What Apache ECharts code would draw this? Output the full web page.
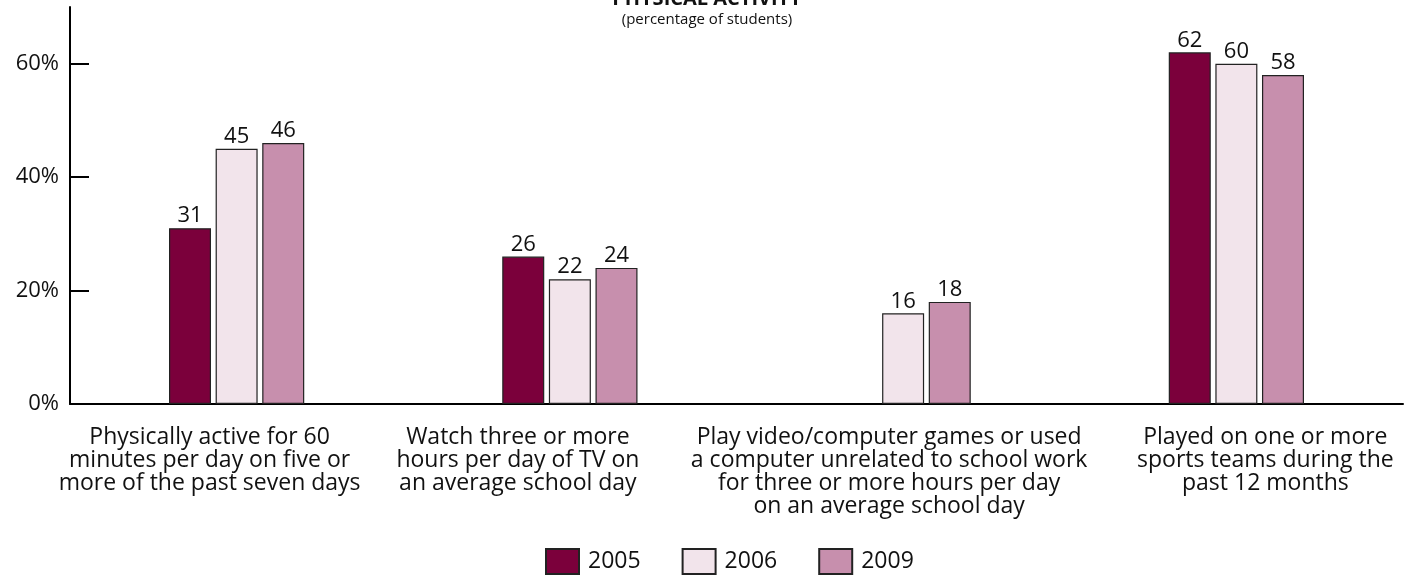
<!DOCTYPE html>
<html>
<head>
<meta charset="utf-8">
<script src="https://cdn.jsdelivr.net/npm/echarts@6/dist/echarts.min.js"></script>
<style>
html,body{margin:0;padding:0;background:#fff;}
#chart{width:1414px;height:576px;}
</style>
</head>
<body>
<div id="chart"></div>
<script>
const categories = [
  "Physically active for 60\nminutes per day on five or\nmore of the past seven days",
  "Watch three or more\nhours per day of TV on\nan average school day",
  "Play video/computer games or used\na computer unrelated to school work\nfor three or more hours per day\non an average school day",
  "Played on one or more\nsports teams during the\npast 12 months"
];
const years = ["2005", "2006", "2009"];
const values2005 = [31, 26, null, 62];
const values2006 = [45, 22, 16, 60];
const values2009 = [46, 24, 18, 58];
const yTicks = [0, 20, 40, 60];

const FONT = '"Open Sans"';
const colors = ['#7b003b', '#f2e4eb', '#c78fad'];
const seriesData = [values2005, values2006, values2009];
// label nudges (styling only): padding to shift each category label horizontally
const labelPads = [[0, 54, 0, 0], [0, 104, 0, 0], [0, 28, 0, 0], [0, 0, 0, 58]];

const chart = echarts.init(document.getElementById('chart'));
chart.setOption({
  animation: false,
  backgroundColor: '#ffffff',
  title: [
    {text: 'PHYSICAL ACTIVITY', left: 'center', top: -16,
     textStyle: {fontFamily: FONT, fontSize: 20, fontWeight: 'bold', color: '#111'}},
    {text: '(percentage of students)', left: 'center', top: 7,
     textStyle: {fontFamily: FONT, fontSize: 15, fontWeight: 'normal', color: '#111'}}
  ],
  legend: {
    data: years,
    bottom: 1,
    left: 545,
    padding: 0,
    itemWidth: 33,
    itemHeight: 25,
    itemGap: 41,
    icon: 'rect',
    textStyle: {fontFamily: FONT, fontSize: 23, color: '#111', padding: [0, 0, 0, 4]}
  },
  grid: {left: 70, right: 11, top: 7, bottom: 172, containLabel: false},
  xAxis: {
    type: 'category',
    data: categories.map((c, i) => ({value: c, textStyle: {padding: labelPads[i]}})),
    axisLine: {lineStyle: {color: '#000', width: 2}},
    axisTick: {show: false},
    axisLabel: {interval: 0, fontFamily: FONT, fontSize: 23, lineHeight: 23, color: '#111', margin: 22}
  },
  yAxis: {
    type: 'value',
    min: 0,
    max: 70,
    axisLine: {show: true, lineStyle: {color: '#000', width: 2}},
    axisTick: {show: true, inside: true, length: 19, lineStyle: {color: '#000', width: 2}, customValues: yTicks},
    splitLine: {show: false},
    axisLabel: {formatter: '{value}%', fontFamily: FONT, fontSize: 22, color: '#111', margin: 11, customValues: yTicks}
  },
  series: years.map((y, i) => ({
    name: y,
    type: 'bar',
    data: seriesData[i],
    barWidth: 42,
    barGap: '11%',
    itemStyle: {color: colors[i], borderColor: '#222', borderWidth: 1.2},
    label: {show: true, position: 'top', distance: 1, fontFamily: FONT, fontSize: 22, color: '#111'}
  }))
});
</script>
</body>
</html>
